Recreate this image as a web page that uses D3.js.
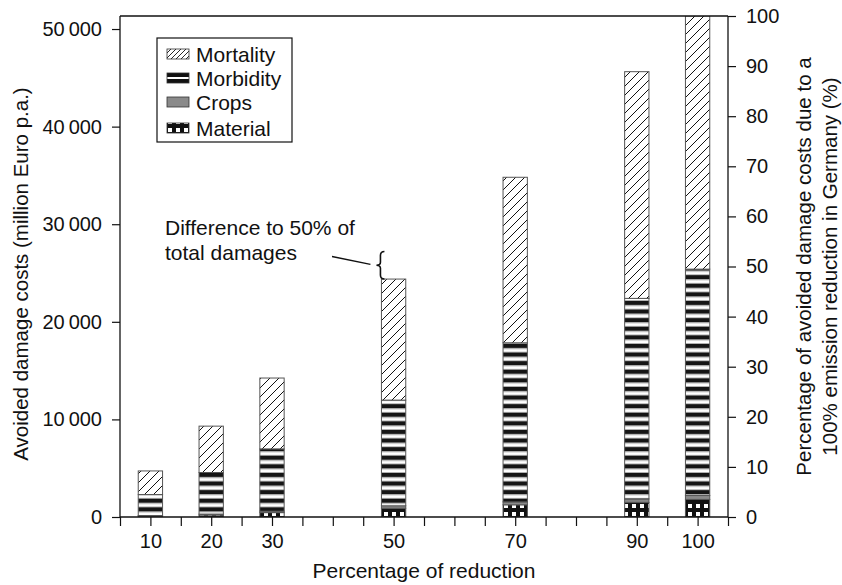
<!DOCTYPE html>
<html>
<head>
<meta charset="utf-8">
<script src="https://cdn.jsdelivr.net/npm/d3@7"></script>
<style>
  html, body { margin: 0; padding: 0; background: #fff; }
  svg { display: block; }
  text { font-family: "Liberation Sans", Arial, Helvetica, sans-serif; fill: #111; }
</style>
</head>
<body>
<svg id="chart" width="842" height="585"></svg>
<script>
// ---- Data ----
const reductions = [10, 20, 30, 50, 70, 90, 100];           // % reduction (x categories)
const material   = [100, 200, 450, 900, 1250, 1500, 1800];  // million Euro p.a.
const crops      = [50, 100, 150, 250, 300, 350, 400];
const morbidity  = [2150, 4260, 6380, 10830, 16300, 20550, 23200];
const mortality  = [2420, 4750, 7260, 12400, 16960, 23230, 25940];
const seriesKeys = ["material", "crops", "morbidity", "mortality"];
const legendLabels = ["Mortality", "Morbidity", "Crops", "Material"];
const leftTicks  = [0, 10000, 20000, 30000, 40000, 50000];
const rightTicks = [0, 10, 20, 30, 40, 50, 60, 70, 80, 90, 100];
const xTickValues = [5, 10, 15, 20, 25, 30, 35, 40, 45, 50, 55, 60, 65, 70, 75, 80, 85, 90, 95, 100, 105];
const xTickLabels = [10, 20, 30, 50, 70, 90, 100];
const leftMax = 51335;       // total damages for 100% reduction (top of axis)
const braceTopValue = 27200; // upper end of the annotation brace
const annotationLines = ["Difference to 50% of", "total damages"];

// ---- Layout ----
const svg = d3.select("#chart");
const M = { left: 120, right: 728, top: 16, bottom: 517 };
const FONT_TICK = 20, FONT_TITLE = 21;

const x = d3.scaleLinear().domain([5, 105]).range([M.left, M.right]);
const y = d3.scaleLinear().domain([0, leftMax]).range([M.bottom, M.top]);
const yR = d3.scaleLinear().domain([0, 100]).range([M.bottom, M.top]);

// ---- Patterns ----
const defs = svg.append("defs");
function hatch(id, s, sw) {
  const p = defs.append("pattern").attr("id", id).attr("patternUnits", "userSpaceOnUse")
    .attr("width", s).attr("height", s);
  p.append("rect").attr("width", s).attr("height", s).attr("fill", "#fff");
  p.append("path").attr("d", `M0,${s} L${s},0 M${-s/2},${s/2} L${s/2},${-s/2} M${s/2},${1.5*s} L${1.5*s},${s/2}`)
    .attr("stroke", "#111").attr("stroke-width", sw);
}
hatch("hatchBar", 9, 1);
hatch("hatchLeg", 5, 0.9);

const stripe = defs.append("pattern").attr("id", "stripes").attr("patternUnits", "userSpaceOnUse")
  .attr("width", 10).attr("height", 8.6);
stripe.append("rect").attr("width", 10).attr("height", 8.6).attr("fill", "#fff");
stripe.append("rect").attr("y", 0).attr("width", 10).attr("height", 4.2).attr("fill", "#151515");
stripe.append("rect").attr("y", 4.2).attr("width", 10).attr("height", 0.9).attr("fill", "#aaa");
stripe.append("rect").attr("y", 7.7).attr("width", 10).attr("height", 0.9).attr("fill", "#aaa");

const checker = defs.append("pattern").attr("id", "checker").attr("patternUnits", "userSpaceOnUse")
  .attr("width", 8).attr("height", 8);
checker.append("rect").attr("width", 8).attr("height", 8).attr("fill", "#111");
checker.append("rect").attr("x", 0).attr("y", 0).attr("width", 4).attr("height", 4).attr("fill", "#fff");
checker.append("rect").attr("x", 4).attr("y", 4).attr("width", 4).attr("height", 4).attr("fill", "#111");

const legStripe = defs.append("pattern").attr("id", "legStripe").attr("patternUnits", "objectBoundingBox")
  .attr("width", 1).attr("height", 1);
legStripe.append("rect").attr("width", 22).attr("height", 10).attr("fill", "#111");
legStripe.append("rect").attr("y", 4).attr("width", 22).attr("height", 2).attr("fill", "#fff");

const fills = { mortality: "url(#hatchBar)", morbidity: "url(#stripes)", crops: "#8a8a8a", material: "url(#checker)" };
const legFills = { Mortality: "url(#hatchLeg)", Morbidity: "url(#legStripe)", Crops: "#8a8a8a", Material: "url(#checker)" };

defs.append("clipPath").attr("id", "plotClip").append("rect")
  .attr("x", M.left).attr("y", M.top).attr("width", M.right - M.left).attr("height", M.bottom - M.top);

// ---- Bars ----
const table = reductions.map((r, i) => ({
  reduction: r, material: material[i], crops: crops[i], morbidity: morbidity[i], mortality: mortality[i]
}));
const stacked = d3.stack().keys(seriesKeys)(table);
const barHalf = 2;

const gBars = svg.append("g").attr("clip-path", "url(#plotClip)");
stacked.forEach(layer => {
  gBars.selectAll(null).data(layer).join("rect")
    .attr("x", d => x(d.data.reduction - barHalf))
    .attr("width", d => x(d.data.reduction + barHalf) - x(d.data.reduction - barHalf))
    .attr("y", d => y(d[1]))
    .attr("height", d => y(d[0]) - y(d[1]))
    .attr("fill", fills[layer.key])
    .attr("stroke", "#555").attr("stroke-width", 1);
});

// ---- Frame / axes ----
svg.append("line").attr("x1", M.left).attr("x2", M.right).attr("y1", M.top).attr("y2", M.top)
  .attr("stroke", "#111").attr("stroke-width", 1.3);

const axL = svg.append("g").attr("transform", `translate(${M.left},0)`)
  .call(d3.axisLeft(y).tickValues(leftTicks).tickSize(8).tickPadding(10)
    .tickFormat(d => d === 0 ? "0" : d3.format(",")(d).replace(",", "\u2009")));
const axR = svg.append("g").attr("transform", `translate(${M.right},0)`)
  .call(d3.axisRight(yR).tickValues(rightTicks).tickSize(8).tickPadding(10));
const axB = svg.append("g").attr("transform", `translate(0,${M.bottom})`)
  .call(d3.axisBottom(x).tickValues(xTickValues).tickSize(9).tickPadding(8)
    .tickFormat(d => xTickLabels.includes(d) ? String(d) : ""));
[axL, axR, axB].forEach(g => {
  g.select(".domain").attr("stroke", "#111").attr("stroke-width", 1.3);
  g.selectAll(".tick line").attr("stroke", "#111").attr("stroke-width", 1.2);
  g.selectAll(".tick text").attr("font-size", FONT_TICK).attr("fill", "#111")
    .attr("font-family", "\"Liberation Sans\", Arial, Helvetica, sans-serif");
});
axL.select(".domain").attr("d", `M0,${M.bottom}V${M.top}`);
axR.select(".domain").attr("d", `M0,${M.bottom}V${M.top}`);
axB.select(".domain").attr("d", `M${M.left},0H${M.right}`);

// ---- Axis titles ----
svg.append("text").attr("x", (M.left + M.right) / 2).attr("y", 578)
  .attr("text-anchor", "middle").attr("font-size", FONT_TITLE).text("Percentage of reduction");
svg.append("text").attr("transform", `translate(28,274) rotate(-90)`)
  .attr("text-anchor", "middle").attr("font-size", FONT_TITLE - 0.5)
  .text("Avoided damage costs (million Euro p.a.)");
const rt = svg.append("text").attr("transform", `translate(811,${(M.top + M.bottom) / 2}) rotate(-90)`)
  .attr("text-anchor", "middle").attr("font-size", FONT_TITLE - 0.5);
rt.append("tspan").attr("x", 0).attr("y", 0).text("Percentage of avoided damage costs due to a");
rt.append("tspan").attr("x", 0).attr("y", 26).text("100% emission reduction in Germany (%)");

// ---- Legend ----
const leg = svg.append("g");
leg.append("rect").attr("x", 157).attr("y", 38).attr("width", 135).attr("height", 104)
  .attr("fill", "#fff").attr("stroke", "#111").attr("stroke-width", 1.2);
const rowY = [54, 78, 102, 128];
legendLabels.forEach((lab, i) => {
  leg.append("rect").attr("x", 167).attr("y", rowY[i] - 5).attr("width", 22).attr("height", 10)
    .attr("fill", legFills[lab]).attr("stroke", "#333").attr("stroke-width", 0.8);
  leg.append("text").attr("x", 196).attr("y", rowY[i]).attr("dy", "0.36em")
    .attr("font-size", FONT_TITLE).text(lab);
});

// ---- Annotation ----
const i50 = reductions.indexOf(50);
const total50 = material[i50] + crops[i50] + morbidity[i50] + mortality[i50];
const yb0 = y(total50), yb1 = y(braceTopValue), ym = (yb0 + yb1) / 2;
const bx = x(50 - barHalf) + 1;
svg.append("path")
  .attr("d", `M${bx + 2},${yb1} Q${bx - 2},${yb1} ${bx - 2},${yb1 + 4} L${bx - 2},${ym - 3}
              Q${bx - 2},${ym} ${bx - 6},${ym} Q${bx - 2},${ym} ${bx - 2},${ym + 3}
              L${bx - 2},${yb0 - 4} Q${bx - 2},${yb0} ${bx + 2},${yb0}`)
  .attr("fill", "none").attr("stroke", "#111").attr("stroke-width", 1.6);
svg.append("line").attr("x1", 332).attr("y1", 256.5).attr("x2", bx - 12).attr("y2", ym - 1)
  .attr("stroke", "#111").attr("stroke-width", 1.3);
const at = svg.append("text").attr("font-size", FONT_TITLE);
annotationLines.forEach((t, i) => at.append("tspan").attr("x", 165).attr("y", 235 + i * 25).text(t));
</script>
</body>
</html>
